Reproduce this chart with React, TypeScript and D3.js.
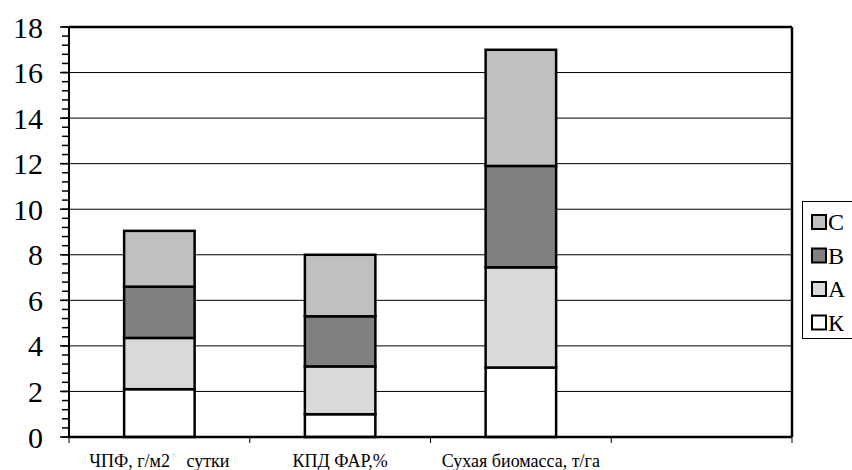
import React from "react"
import * as d3 from "d3"

// categories (the fourth slot is empty in the original)
const categories = ["ЧПФ", "КПД ФАР", "Сухая биомасса", ""]
const seriesNames = ["К", "А", "В", "С"]
const seriesColors = ["#ffffff", "#d9d9d9", "#808080", "#c0c0c0"]
const valuesK = [2.1, 1.0, 3.05]
const valuesA = [2.25, 2.1, 4.4]
const valuesB = [2.25, 2.2, 4.45]
const valuesC = [2.45, 2.7, 5.1]
const yTicks = [0, 2, 4, 6, 8, 10, 12, 14, 16, 18]

const W = 852
const H = 470
const serif = { fontFamily: '"Liberation Serif"' }

const App: React.FC = () => {
	const margin = { top: 27, right: 60, bottom: 33, left: 69 }
	const x0 = margin.left
	const x1 = W - margin.right
	const y0 = H - margin.bottom
	const y1 = margin.top

	const x = d3.scaleBand<string>().domain(categories).range([x0, x1]).padding(0)
	const y = d3.scaleLinear().domain([0, 18]).range([y0, y1])
	const barW = x.bandwidth() * 0.39
	const cx = (c: string) => x(c)! + x.bandwidth() / 2

	const rows = categories.slice(0, 3).map((c, i) => ({
		cat: c,
		К: valuesK[i],
		А: valuesA[i],
		В: valuesB[i],
		С: valuesC[i],
	}))
	const stack = d3.stack<any>().keys(seriesNames)(rows)
	const minor = d3.range(0, 18.001, 0.4)
	const bounds = categories.map((c) => x(c)!).concat([x1])
	const labelY = 467

	return (
		<svg width={W} height={H} style={{ position: "absolute", left: 0, top: 0, background: "#fff" }}>
			{/* grid */}
			{yTicks
				.filter((d) => d > 0 && d < 18)
				.map((d) => (
					<line key={"g" + d} x1={x0} x2={x1} y1={y(d)} y2={y(d)} stroke="#000" strokeWidth={1} />
				))}

			{/* stacked bars */}
			{stack.map((s, i) =>
				s.map((d: any) => (
					<rect
						key={s.key + d.data.cat}
						x={x(d.data.cat)! + (x.bandwidth() - barW) / 2}
						width={barW}
						y={y(d[1])}
						height={y(d[0]) - y(d[1])}
						fill={seriesColors[i]}
						stroke="#000"
						strokeWidth={2.5}
					/>
				))
			)}

			{/* frame */}
			<line x1={x0} x2={x1} y1={y1} y2={y1} stroke="#000" strokeWidth={2.5} />
			<line x1={x1} x2={x1} y1={y1} y2={y0} stroke="#000" strokeWidth={2.5} />

			{/* y axis */}
			<line x1={x0} x2={x0} y1={y1} y2={y0} stroke="#000" strokeWidth={2} />
			{minor.map((d) => (
				<line key={"m" + d} x1={x0 - 7} x2={x0} y1={y(d)} y2={y(d)} stroke="#000" strokeWidth={1.5} />
			))}
			{yTicks.map((d) => (
				<g key={"t" + d}>
					<line x1={x0 - 9} x2={x0} y1={y(d)} y2={y(d)} stroke="#000" strokeWidth={1.5} />
					<text x={43} y={y(d)} dy="0.35em" textAnchor="end" fontSize={30} style={serif}>
						{d}
					</text>
				</g>
			))}

			{/* x axis */}
			<line x1={x0} x2={x1} y1={y0} y2={y0} stroke="#000" strokeWidth={2.5} />
			{bounds.map((b, i) => (
				<line key={"b" + i} x1={b} x2={b} y1={y0} y2={y0 + 6} stroke="#000" strokeWidth={1} />
			))}
			<text x={cx(categories[0])} y={labelY} textAnchor="middle" fontSize={18} style={{ ...serif, whiteSpace: "pre" }}>
				<tspan>ЧПФ, г/м2</tspan>
				<tspan dy={-7} fontSize={9}>{" ˙ "}</tspan>
				<tspan dy={7}>{"  сутки"}</tspan>
			</text>
			<text x={cx(categories[1])} y={labelY} textAnchor="middle" fontSize={18} style={serif}>
				КПД ФАР,%
			</text>
			<text x={cx(categories[2])} y={labelY} textAnchor="middle" fontSize={18} style={serif}>
				Сухая биомасса, т/га
			</text>

			{/* legend, reverse order */}
			<rect x={802.5} y={201.5} width={60} height={137} fill="#fff" stroke="#000" strokeWidth={1} />
			{[3, 2, 1, 0].map((k, i) => (
				<g key={"l" + k} transform={`translate(812, ${222 + i * 33.5})`}>
					<rect x={0} y={-7} width={14} height={14} fill={seriesColors[k]} stroke="#000" strokeWidth={2} />
					<text x={16} y={0} dy="0.35em" fontSize={24} style={serif}>
						{seriesNames[k]}
					</text>
				</g>
			))}
		</svg>
	)
}

export default App
